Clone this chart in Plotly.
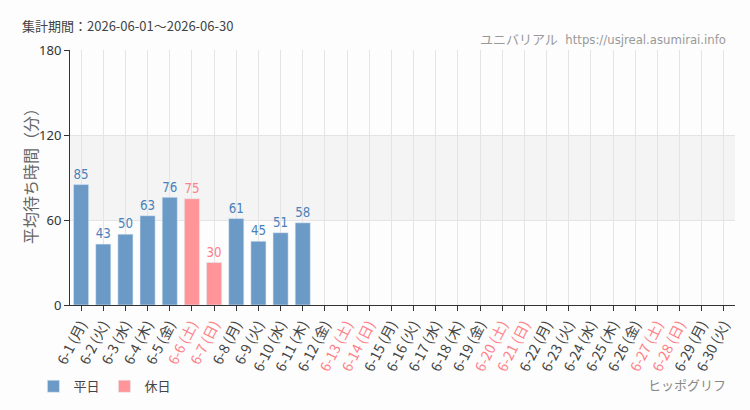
import plotly.graph_objects as go

days = [f"6-{d}" for d in range(1, 31)]
weekdays_jp = ["月", "火", "水", "木", "金", "土", "日"]
dow = [weekdays_jp[(d - 1) % 7] for d in range(1, 31)]
labels = [f"{d} ({w})" for d, w in zip(days, dow)]
holiday_flags = [w in ("土", "日") for w in dow]

weekday_vals = [85, 43, 50, 63, 76, None, None, 61, 45, 51, 58] + [None] * 19
holiday_vals = [None, None, None, None, None, 75, 30] + [None] * 23

blue = "#6b9ac6"
pink = "#ff9598"
blue_txt = "#4a81bb"
pink_txt = "#ff7f88"
gray_txt = "#444444"
cond = "DejaVu Sans Condensed, Liberation Sans Narrow, Noto Sans CJK JP, sans-serif"

ticktext = [
    f'<span style="color:{pink_txt}">{l}</span>' if h else l
    for l, h in zip(labels, holiday_flags)
]

fig = go.Figure()
fig.add_trace(go.Bar(
    x=labels, y=weekday_vals, name="平日", marker_color=blue,
    text=[str(v) if v is not None else "" for v in weekday_vals],
    textposition="outside", cliponaxis=False,
    textfont=dict(color=blue_txt, size=14, family=cond),
))
fig.add_trace(go.Bar(
    x=labels, y=holiday_vals, name="休日", marker_color=pink,
    text=[str(v) if v is not None else "" for v in holiday_vals],
    textposition="outside", cliponaxis=False,
    textfont=dict(color=pink_txt, size=14, family=cond),
))

fig.add_shape(type="rect", xref="paper", yref="y", x0=0, x1=1, y0=60, y1=120,
              fillcolor="#f3f4f3", line_width=0, layer="below")

fig.update_layout(
    width=750, height=410,
    margin=dict(l=70, r=15, t=50, b=105, autoexpand=False),
    paper_bgcolor="#fcfdfc", plot_bgcolor="#fcfdfc",
    barmode="overlay", bargap=0.32,
    font=dict(family="Noto Sans CJK JP, sans-serif", color=gray_txt, size=13),
    showlegend=True,
    legend=dict(orientation="h", x=-0.055, xref="paper", y=-0.26, yanchor="top",
                font=dict(size=13, color=gray_txt), itemwidth=30),
    xaxis=dict(
        type="category", tickmode="array", tickvals=labels, ticktext=ticktext,
        tickangle=-63, ticks="outside", ticklen=5, tickcolor="#333",
        showgrid=True, gridcolor="#e4e4e4", showline=True, linecolor="#333",
        tickfont=dict(size=14, color=gray_txt), automargin=False,
    ),
    yaxis=dict(
        range=[0, 180], tickvals=[0, 60, 120, 180], ticks="outside", ticklen=5,
        tickcolor="#333", showline=True, linecolor="#333", showgrid=True,
        gridcolor="#e4e4e4", zeroline=False, automargin=False,
        tickfont=dict(size=13, color="#333", family="Noto Sans, sans-serif"),
    ),
    annotations=[
        dict(text="集計期間：2026-06-01～2026-06-30", xref="paper", yref="paper",
             x=-50/665, y=1 + 24/255, xanchor="left", yanchor="middle", showarrow=False,
             font=dict(size=13, color=gray_txt)),
        dict(text="平均待ち時間（分）", xref="paper", yref="paper",
             x=-40/665, y=(305-172)/255, xanchor="center", yanchor="middle", showarrow=False,
             textangle=-90, font=dict(size=16, color="#666")),
        dict(text="ユニバリアル  https://usjreal.asumirai.info", xref="paper", yref="paper",
             x=1 - 7/665, y=1 + 10/255, xanchor="right", yanchor="middle", showarrow=False,
             font=dict(size=13, color="#999", family=cond)),
        dict(text="ヒッポグリフ", xref="paper", yref="paper",
             x=1 - 7/665, y=-80/255, xanchor="right", yanchor="middle", showarrow=False,
             font=dict(size=13, color="#888", family=cond)),
    ],
)

fig.write_html("out.html")
